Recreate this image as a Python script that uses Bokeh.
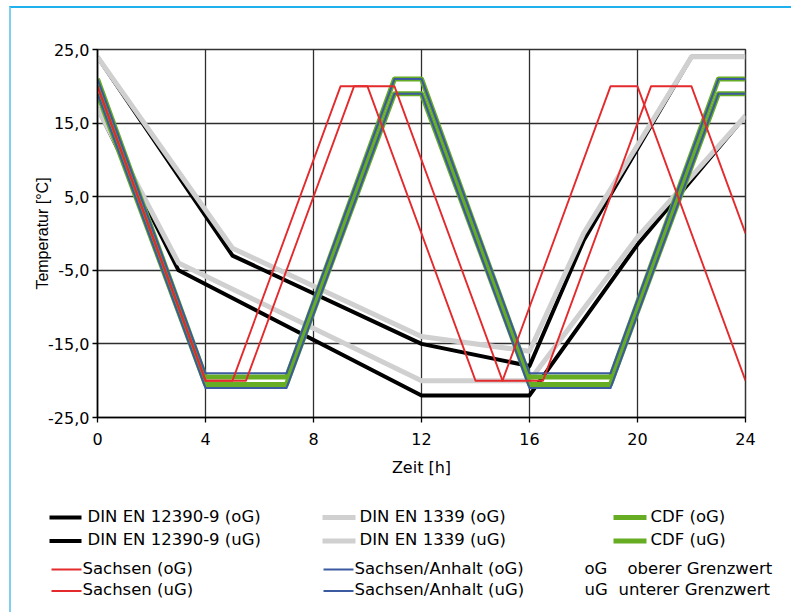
from bokeh.plotting import figure
from bokeh.models import Range1d, FixedTicker
from bokeh.layouts import column, row
from bokeh.embed import file_html
from bokeh.resources import INLINE
from bokeh.core.properties import value

# ---------------- data ----------------
x_ticks = [0, 4, 8, 12, 16, 20, 24]
y_ticks = [-25, -15, -5, 5, 15, 25]
y_tick_labels = ["-25,0", "-15,0", "-5,0", "5,0", "15,0", "25,0"]

# DIN EN 12390-9
din12390_og_x = [0, 5, 12, 16, 18, 22, 24]
din12390_og_y = [24, -3, -15, -18, -1, 24, 24]
din12390_ug_x = [0, 3, 12, 16, 20, 24]
din12390_ug_y = [17, -5, -22, -22, -1.5, 16]

# DIN EN 1339
din1339_og_x = [0, 5, 12, 16, 18, 22, 24]
din1339_og_y = [24, -2, -14, -16, 0, 24, 24]
din1339_ug_x = [0, 3, 12, 16, 20, 24]
din1339_ug_y = [17, -4, -20, -20, -0.5, 16]

# CDF
cdf_x = [0, 4, 7, 11, 12, 16, 19, 23, 24]
cdf_og_y = [21, -19.5, -19.5, 21, 21, -19.5, -19.5, 21, 21]
cdf_ug_y = [19, -20.5, -20.5, 19, 19, -20.5, -20.5, 19, 19]

# Sachsen/Anhalt
sa_x = [0, 4, 7, 11, 12, 16, 19, 23, 24]
sa_og_y = [21, -19, -19, 21, 21, -19, -19, 21, 21]
sa_ug_y = [19, -21, -21, 19, 19, -21, -21, 19, 19]

# Sachsen
sachsen_og_x = [0, 4, 5, 9, 10, 14, 15, 19, 20, 24]
sachsen_og_y = [20, -20, -20, 20, 20, -20, -20, 20, 20, -20]
sachsen_ug_x = [0, 4, 5.5, 9.5, 11, 15, 16.5, 20.5, 22, 24]
sachsen_ug_y = [20, -20, -20, 20, 20, -20, -20, 20, 20, 0]

legend_labels = {
    "din_og": "DIN EN 12390-9 (oG)", "din_ug": "DIN EN 12390-9 (uG)",
    "en_og": "DIN EN 1339 (oG)", "en_ug": "DIN EN 1339 (uG)",
    "cdf_og": "CDF (oG)", "cdf_ug": "CDF (uG)",
    "sx_og": "Sachsen (oG)", "sx_ug": "Sachsen (uG)",
    "sa_og": "Sachsen/Anhalt (oG)", "sa_ug": "Sachsen/Anhalt (uG)",
}
abbr_labels = ["oG", "uG"]
abbr_texts = ["oberer Grenzwert", "unterer Grenzwert"]

# ---------------- styles ----------------
BLACK, GRAY, GREEN, BLUE, RED = "#000000", "#d0d0d0", "#66ad24", "#3b5a9f", "#e42a2c"
style = {
    "din": dict(color=BLACK, width=4),
    "en": dict(color=GRAY, width=5),
    "cdf": dict(color=GREEN, width=5),
    "sa": dict(color=BLUE, width=2),
    "sx": dict(color=RED, width=1.9),
}
FONT = "DejaVu Sans"

p = figure(width=780, height=484, x_range=Range1d(0, 24), y_range=Range1d(-25, 25),
           output_backend="svg", toolbar_location=None,
           min_border_left=86, min_border_right=46, min_border_top=41, min_border_bottom=75)
p.background_fill_color = "white"
p.border_fill_color = "white"
p.outline_line_color = "#333333"
p.outline_line_width = 1.5

series = [
    ("din", din12390_og_x, din12390_og_y), ("din", din12390_ug_x, din12390_ug_y),
    ("en", din1339_og_x, din1339_og_y), ("en", din1339_ug_x, din1339_ug_y),
    ("cdf", cdf_x, cdf_og_y), ("cdf", cdf_x, cdf_ug_y),
    ("sa", sa_x, sa_og_y), ("sa", sa_x, sa_ug_y),
    ("sx", sachsen_og_x, sachsen_og_y), ("sx", sachsen_ug_x, sachsen_ug_y),
]
for key, xs, ys in series:
    s = style[key]
    p.line(xs, ys, line_color=s["color"], line_width=s["width"], line_join="round")

p.xaxis.ticker = FixedTicker(ticks=x_ticks)
p.yaxis.ticker = FixedTicker(ticks=y_ticks)
p.xgrid.ticker = FixedTicker(ticks=x_ticks)
p.ygrid.ticker = FixedTicker(ticks=y_ticks)
p.yaxis.major_label_overrides = {t: l for t, l in zip(y_ticks, y_tick_labels)}
for g in (p.xgrid, p.ygrid):
    g.grid_line_color = "#2e2e2e"
    g.grid_line_width = 1.3
for ax in (p.xaxis, p.yaxis):
    ax.axis_line_color = "black"
    ax.axis_line_width = 1.5
    ax.major_tick_line_color = "black"
    ax.major_tick_line_width = 1.3
    ax.major_tick_in = 0
    ax.major_tick_out = 5
    ax.minor_tick_line_color = None
    ax.major_label_text_font = FONT
    ax.major_label_text_font_size = "16px"
    ax.major_label_text_color = "black"
    ax.axis_label_text_font_style = "normal"
    ax.axis_label_text_font_size = "16px"
    ax.axis_label_text_color = "black"
p.xaxis.axis_label = "Zeit [h]"
p.yaxis.axis_label = "Temperatur [°C]"
p.xaxis.axis_label_text_font = FONT
p.yaxis.axis_label_text_font = "Liberation Sans"
p.xaxis.major_label_standoff = 10
p.yaxis.major_label_standoff = 3
p.xaxis.axis_label_standoff = 10
p.yaxis.axis_label_standoff = -6

# ---------------- legend panel ----------------
LW, LH = 780, 120
lg = figure(width=LW, height=LH, x_range=Range1d(0, LW), y_range=Range1d(LH, 0),
            output_backend="svg", toolbar_location=None,
            x_axis_location=None, y_axis_location=None,
            min_border_left=0, min_border_right=0, min_border_top=0, min_border_bottom=0)
lg.grid.visible = False
lg.outline_line_color = None
lg.background_fill_color = "white"
lg.border_fill_color = "white"

# (key, style, line x0, line x1, text x, row line y, row text y)
legend_layout = [
    ("din_og", "din", 38, 70, 76, 25, 24), ("din_ug", "din", 38, 70, 76, 48.5, 47),
    ("sx_og", "sx", 40, 70, 71, 77, 75.5), ("sx_ug", "sx", 40, 70, 71, 98.5, 97),
    ("en_og", "en", 311, 344, 348, 25, 24), ("en_ug", "en", 311, 344, 348, 48.5, 47),
    ("sa_og", "sa", 312, 342, 343, 77, 75.5), ("sa_ug", "sa", 312, 342, 343, 98.5, 97),
    ("cdf_og", "cdf", 602, 635, 639, 25, 24), ("cdf_ug", "cdf", 602, 635, 639, 48.5, 47),
]
LFS = "16.5px"
for key, st, x0, x1, tx, ly, ty in legend_layout:
    s = style[st]
    lg.line([x0, x1], [ly, ly], line_color=s["color"], line_width=s["width"])
    lg.text([tx], [ty], text=[legend_labels[key]], text_font=value(FONT),
            text_font_size=LFS, text_baseline="middle", text_align="left", text_color="black")

abbr_pos = [(573, 616, 75.5), (573, 607, 97)]
for (ax0, dx, ty), a, d in zip(abbr_pos, abbr_labels, abbr_texts):
    lg.text([ax0], [ty], text=[a], text_font=value(FONT), text_font_size=LFS,
            text_baseline="middle", text_align="left", text_color="black")
    lg.text([dx], [ty], text=[d], text_font=value(FONT), text_font_size=LFS,
            text_baseline="middle", text_align="left", text_color="black")

layout = column(row(p), row(lg), styles={"border-top": "2px solid #1fb1ee",
                                         "border-left": "2px solid #80cff1",
                                         "margin-left": "9px", "margin-top": "6px"})

open("out.html", "w").write(file_html(layout, INLINE))
